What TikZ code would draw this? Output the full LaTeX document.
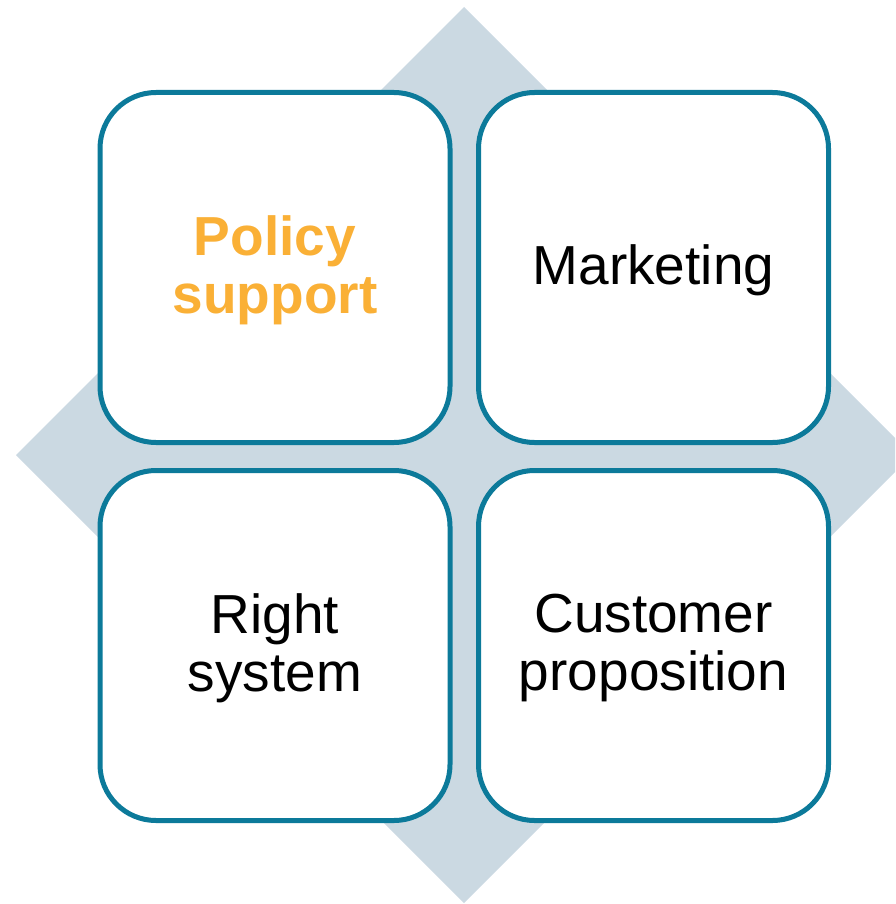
\documentclass[tikz,border=0pt]{standalone}
\usepackage{fontspec}
\setmainfont{Liberation Sans}
\definecolor{tileline}{RGB}{12,122,154}
\definecolor{backdiamond}{RGB}{203,217,226}
\definecolor{policyorange}{RGB}{250,176,54}
\tikzset{
  tile/.style = {draw=tileline, line width=2.5pt, fill=white,
    rounded corners=28pt, minimum width=175pt, minimum height=175pt,
    align=center, inner sep=0pt, text depth=3pt,
    font=\fontsize{27.5pt}{28.8pt}\selectfont}
}
\begin{document}
\begin{tikzpicture}[x=0.5pt, y=-0.5pt]
      \useasboundingbox (0,0) rectangle (895,904);
      \clip (0,0) rectangle (895,904);
      % background diamond
      \fill [backdiamond] (464,7) -- (912,455) -- (464,903) -- (16,455) -- cycle;
      % the four tiles
      \node [tile, text=policyorange, font=\fontsize{27.5pt}{28.8pt}\selectfont\bfseries]
        (policy) at (275,267.5) {Policy\\support};
      \node [tile] (marketing) at (653.5,267.5) {Marketing};
      \node [tile] (system) at (275,645.5) {Right\\system};
      \node [tile] (proposition) at (653.5,645.5) {Customer\\proposition};
    \end{tikzpicture}
\end{document}
